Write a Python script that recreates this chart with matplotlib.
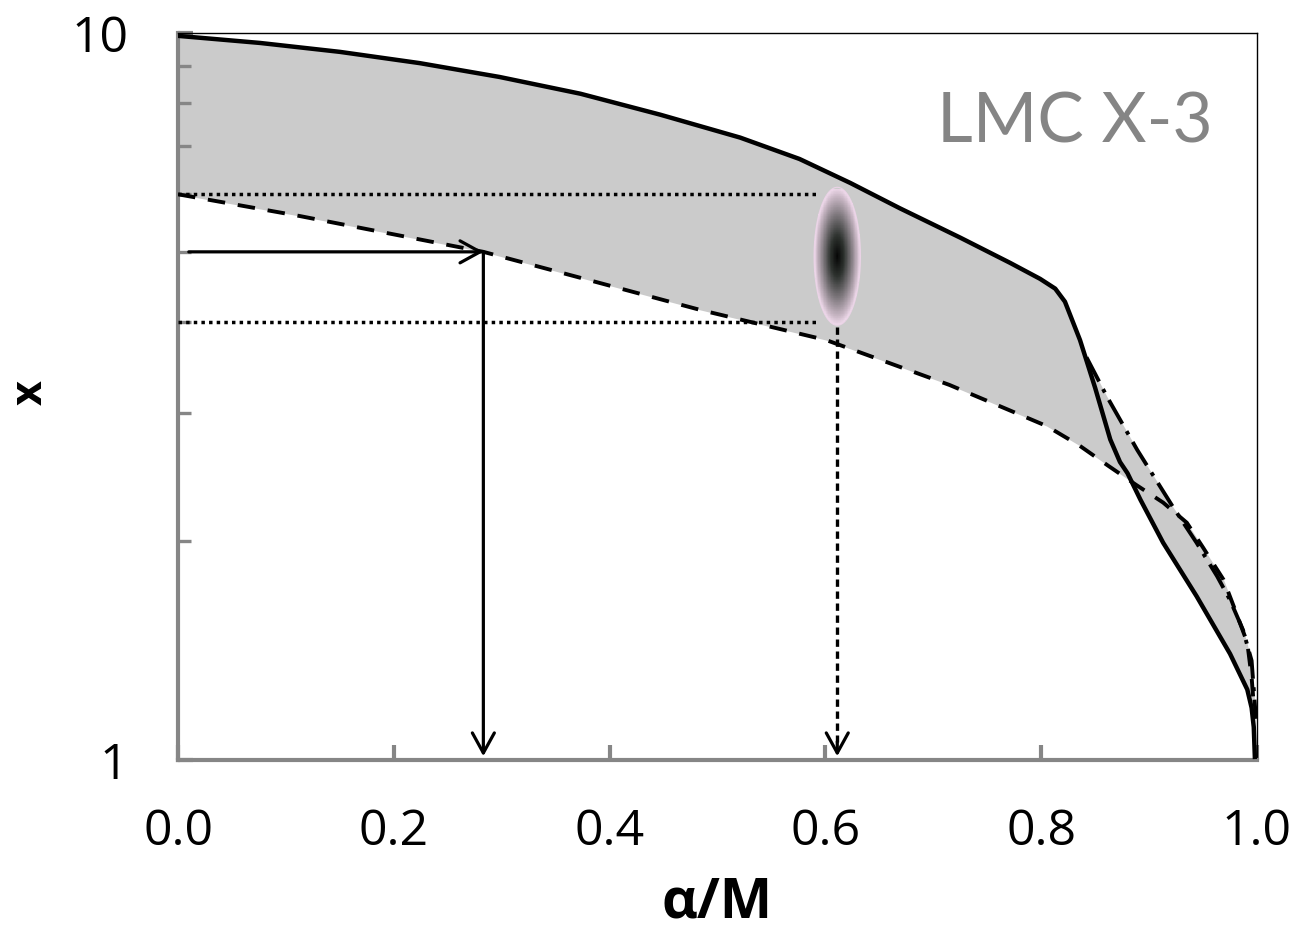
import numpy as np
import matplotlib.pyplot as plt
from matplotlib.colors import LinearSegmentedColormap

plt.rcParams['font.family'] = ['Open Sans', 'DejaVu Sans']

# upper boundary (solid)
a_solid = [0.000, 0.076, 0.150, 0.224, 0.298, 0.373, 0.447, 0.521, 0.576, 0.623,
           0.669, 0.725, 0.771, 0.799, 0.813, 0.822, 0.836, 0.850, 0.864, 0.873,
           0.880, 0.892, 0.913, 0.944, 0.975, 0.991, 0.995, 0.997, 0.998]
x_solid = [9.91, 9.69, 9.42, 9.09, 8.70, 8.25, 7.72, 7.18, 6.71, 6.22,
           5.74, 5.23, 4.83, 4.59, 4.45, 4.27, 3.78, 3.25, 2.76, 2.57,
           2.48, 2.28, 1.99, 1.68, 1.40, 1.25, 1.18, 1.11, 1.01]

# lower boundary (dashed)
a_dash = [0.000, 0.113, 0.283, 0.391, 0.484, 0.601, 0.715, 0.770, 0.805, 0.835,
          0.862, 0.888, 0.913, 0.935, 0.950, 0.969, 0.981, 0.991, 0.995, 0.998]
x_dash = [6.00, 5.60, 5.00, 4.53, 4.16, 3.78, 3.28, 3.03, 2.88, 2.71,
          2.54, 2.39, 2.26, 2.12, 1.96, 1.77, 1.59, 1.45, 1.30, 1.14]

# high-spin branch (dash-dot)
a_dashdot = [0.842, 0.861, 0.889, 0.922, 0.944, 0.963, 0.975, 0.987, 0.995, 0.997, 0.999]
x_dashdot = [3.58, 3.16, 2.67, 2.23, 1.99, 1.79, 1.66, 1.51, 1.37, 1.25, 1.14]

# measured point and its range
a_obs, x_obs = 0.611, 4.93
a_obs_err = 0.0215
x_obs_lo, x_obs_hi = 3.94, 6.1
x_range = [4.0, 6.0]

# arrow read-off example
a_read, x_read = 0.283, 5.0

gray = '#868686'

fig = plt.figure(figsize=(12.97, 9.33), dpi=100)
ax = fig.add_axes([178/1297, 173/933, 1079/1297, 727/933])
ax.set_yscale('log')
ax.set_xlim(0, 1)
ax.set_ylim(1, 10)

# shaded allowed region
grid = np.linspace(0, 0.998, 1200)
ls = np.interp(grid, a_solid, np.log10(x_solid))
ld = np.interp(grid, a_dash, np.log10(x_dash))
ldd = np.where(grid >= a_dashdot[0],
               np.interp(grid, a_dashdot, np.log10(x_dashdot)), -np.inf)
up = np.maximum(np.maximum(ls, ld), ldd)
lo = np.minimum(ls, ld)
ax.fill_between(grid, 10**lo, 10**up, color='#cbcbcb', lw=0, zorder=1)

# blurred blob for the measurement
ga = np.linspace(a_obs - a_obs_err, a_obs + a_obs_err, 80)
gy = np.logspace(np.log10(x_obs_lo), np.log10(x_obs_hi), 200)
A, Y = np.meshgrid(ga, gy)
ry = (np.log10(x_obs_hi) - np.log10(x_obs_lo)) / 2
r = np.sqrt(((A - a_obs) / a_obs_err)**2 + ((np.log10(Y) - np.log10(x_obs)) / ry)**2)
blob_cmap = LinearSegmentedColormap.from_list(
    'blob', [(0, '#050505'), (0.3, '#2e332f'), (0.6, '#7d777c'),
             (0.88, '#cbb9c7'), (1.0, '#f2dcee')])
ax.pcolormesh(A, Y, np.ma.masked_where(r > 1, r), cmap=blob_cmap,
              vmin=0, vmax=1, shading='nearest', zorder=2)
t = np.linspace(0, 2*np.pi, 200)
ax.plot(a_obs + a_obs_err*np.cos(t), 10**(np.log10(x_obs) + ry*np.sin(t)),
        color='#ead3e6', lw=0.8, zorder=2)

# curves
ax.plot(a_solid, x_solid, color='black', lw=3.2, zorder=4)
ax.plot(a_dash, x_dash, color='black', lw=2.8, dashes=(4.5, 3.3), zorder=3)
ax.plot(a_dashdot, x_dashdot, color='black', lw=2.8, dashes=(7, 2.2, 1, 2.2), zorder=3)

# dotted range lines
for xv in x_range:
    ax.plot([0.0, a_obs - a_obs_err + 0.002], [xv, xv], color='black',
            lw=2.5, dashes=(1, 1.2), zorder=3)

# arrows
head = dict(arrowstyle='->,head_length=0.4,head_width=0.22', mutation_scale=36,
            color='black', lw=2.3, shrinkA=0, shrinkB=0)
ax.annotate('', xy=(a_read, x_read), xytext=(0.01, x_read), arrowprops=head, zorder=5)
ax.annotate('', xy=(a_read, 1.012), xytext=(a_read, x_read), arrowprops=head, zorder=5)
ax.plot([a_obs, a_obs], [x_obs_lo, 1.06], color='black', lw=2.4,
        dashes=(2.2, 1.4), zorder=5)
ax.annotate('', xy=(a_obs, 1.012), xytext=(a_obs, 1.06), arrowprops=head, zorder=5)

# axes styling
for side in ['left', 'bottom']:
    ax.spines[side].set_color(gray)
    ax.spines[side].set_linewidth(3)
for side in ['top', 'right']:
    ax.spines[side].set_color('black')
    ax.spines[side].set_linewidth(1)

ax.set_xticks([0, 0.2, 0.4, 0.6, 0.8, 1.0])
ax.set_xticklabels(['0.0', '0.2', '0.4', '0.6', '0.8', '1.0'])
ax.set_yticks([1, 10])
ax.set_yticklabels(['1', '10'])
ax.set_yticks([2, 3, 4, 5, 6, 7, 8, 9], minor=True)
ax.set_yticklabels([], minor=True)
ax.tick_params(axis='x', which='major', direction='in', length=11, width=3,
               color=gray, labelsize=36, pad=34, top=False)
ax.tick_params(axis='y', which='major', direction='in', length=11, width=3,
               color=gray, labelsize=36, pad=36, right=False)
ax.tick_params(axis='y', which='minor', direction='in', length=9.5, width=2.4,
               color=gray, right=False)

fig.text(717/1297, (933-918)/933, 'α/M', ha='center', va='baseline',
         fontsize=40, fontweight='bold')
fig.text(30/1297, (933-393)/933, 'x', ha='center', va='center',
         rotation=90, fontsize=31, fontweight='bold')

ax.text(0.703, 0.85, 'LMC X-3', transform=ax.transAxes, ha='left', va='baseline',
        fontsize=50, color='#858585', family=['Lato', 'DejaVu Sans'])

plt.savefig('out.png', dpi=100)
